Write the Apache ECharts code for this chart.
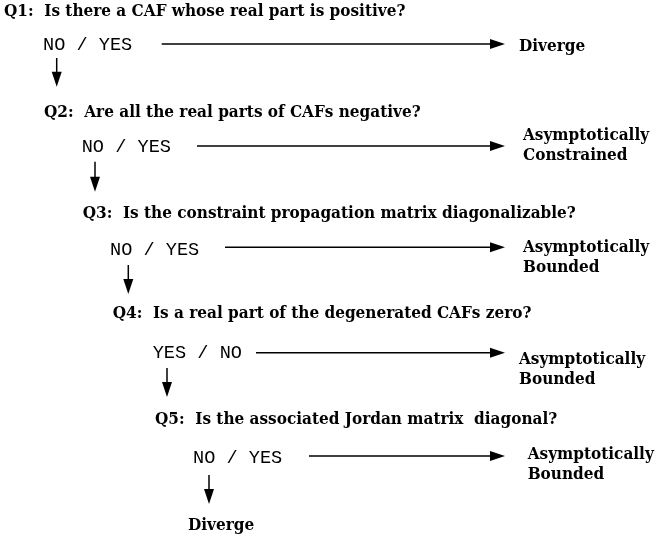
<!DOCTYPE html>
<html><head><meta charset="utf-8">
<script src="https://cdn.jsdelivr.net/npm/echarts@6/dist/echarts.min.js"></script>
<style>html,body{margin:0;padding:0;background:#fff}#c{width:656px;height:542px}</style>
</head><body><div id="c"></div>
<script>
// ---- data ----
const questions = [
  "Q1:  Is there a CAF whose real part is positive?",
  "Q2:  Are all the real parts of CAFs negative?",
  "Q3:  Is the constraint propagation matrix diagonalizable?",
  "Q4:  Is a real part of the degenerated CAFs zero?",
  "Q5:  Is the associated Jordan matrix  diagonal?"
];
const answers = ["NO / YES", "NO / YES", "NO / YES", "YES / NO", "NO / YES"];
const outcomes = [
  ["Diverge"],
  ["Asymptotically", "Constrained"],
  ["Asymptotically", "Bounded"],
  ["Asymptotically", "Bounded"],
  ["Asymptotically", "Bounded"]
];
const finalOutcome = "Diverge";

// ---- layout (pixel-space of a hidden 656x542 value grid) ----
const qX = [4, 44, 82.7, 112.7, 155];
const qBase = [16.7, 117.3, 218.3, 319, 425];
const aX = [43, 81.7, 110, 152.7, 193];
const aBase = [49.3, 151.7, 254.3, 357.3, 462.7];
const arrowY = [44, 146, 247.3, 352.7, 456];
const arrowX0 = [161.7, 197, 225, 256, 309];
const arrowTip = 505;
const oX = [519, 523, 523, 519, 527.7];
const oBase = [51.5, 140.5, 253, 365, 459.3];
const oLineGap = 20;
const downX = [56.7, 95, 128.3, 167, 209];
const downY0 = [58, 161.7, 265, 368, 475];
const downY1 = [86.7, 191.7, 294, 397, 504];
const finalX = 188, finalBase = 530.7;

const SERIF = '"DejaVu Serif Condensed", "DejaVu Serif", serif', SERIF_SIZE = 17, SERIF_K = 0.30;
const MONO = '"Liberation Mono", monospace', MONO_SIZE = 18.6, MONO_K = 0.24;

// build text items
const textItems = [];
questions.forEach((q, i) => textItems.push({ value: [qX[i], qBase[i]], text: q, kind: 'serif' }));
answers.forEach((a, i) => textItems.push({ value: [aX[i], aBase[i]], text: a, kind: 'mono' }));
outcomes.forEach((lines, i) => lines.forEach((t, j) =>
  textItems.push({ value: [oX[i], oBase[i] + j * oLineGap], text: t, kind: 'serif' })));
textItems.push({ value: [finalX, finalBase], text: finalOutcome, kind: 'serif' });

// build arrows
const arrowItems = [];
answers.forEach((a, i) => arrowItems.push([arrowX0[i], arrowY[i], arrowTip, arrowY[i]]));
downX.forEach((x, i) => arrowItems.push([x, downY0[i], x, downY1[i]]));

const chart = echarts.init(document.getElementById('c'), null, { renderer: 'canvas' });
chart.setOption({
  animation: false,
  backgroundColor: '#ffffff',
  grid: { left: 0, right: 0, top: 0, bottom: 0 },
  xAxis: { type: 'value', min: 0, max: 656, show: false },
  yAxis: { type: 'value', min: 0, max: 542, inverse: true, show: false },
  series: [
    {
      type: 'custom',
      coordinateSystem: 'cartesian2d',
      data: arrowItems,
      renderItem: function (params, api) {
        const p0 = api.coord([api.value(0), api.value(1)]);
        const p1 = api.coord([api.value(2), api.value(3)]);
        const dx = p1[0] - p0[0], dy = p1[1] - p0[1];
        const len = Math.hypot(dx, dy), ux = dx / len, uy = dy / len;
        const L = 15, W = 5;
        const bx = p1[0] - ux * L, by = p1[1] - uy * L;
        return {
          type: 'group', children: [
            { type: 'line', shape: { x1: p0[0], y1: p0[1], x2: bx + ux, y2: by + uy }, style: { stroke: '#000', lineWidth: 1.5 } },
            { type: 'polygon', shape: { points: [[p1[0], p1[1]], [bx - uy * W, by + ux * W], [bx + uy * W, by - ux * W]] }, style: { fill: '#000' } }
          ]
        };
      }
    },
    {
      type: 'custom',
      coordinateSystem: 'cartesian2d',
      data: textItems.map(d => d.value),
      renderItem: function (params, api) {
        const item = textItems[params.dataIndex];
        const p = api.coord([api.value(0), api.value(1)]);
        const mono = item.kind === 'mono';
        const fs = mono ? MONO_SIZE : SERIF_SIZE;
        const k = mono ? MONO_K : SERIF_K;
        return {
          type: 'text', x: p[0], y: p[1] - k * fs,
          style: {
            text: item.text, fill: '#000',
            fontFamily: mono ? MONO : SERIF,
            fontWeight: mono ? 'normal' : 'bold',
            fontSize: fs, align: 'left', verticalAlign: 'middle'
          }
        };
      }
    }
  ]
});
</script></body></html>
